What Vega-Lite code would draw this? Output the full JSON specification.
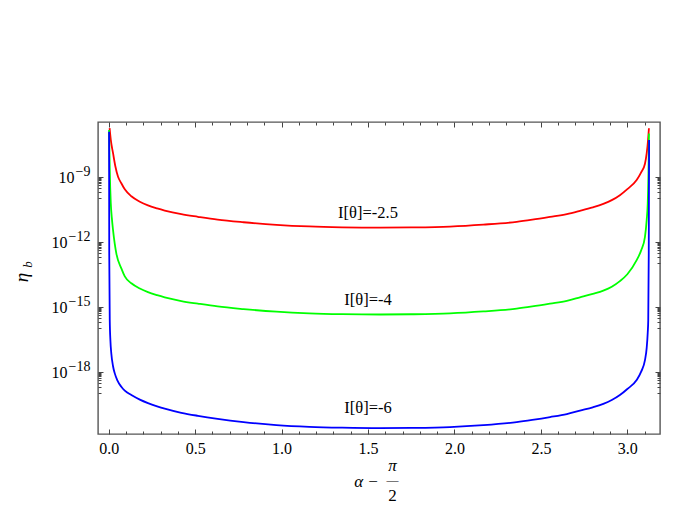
{
  "$schema": "https://vega.github.io/schema/vega-lite/v6.json",
  "width": 562,
  "height": 312,
  "autosize": {"type": "none"},
  "padding": {"left": 98, "top": 122, "right": 17, "bottom": 72},
  "background": "white",
  "config": {
    "view": {"stroke": "#555555", "strokeWidth": 1.4},
    "font": "Liberation Serif",
    "axis": {
      "domain": false,
      "grid": false,
      "labelFont": "Liberation Serif",
      "titleFont": "Liberation Serif",
      "labelColor": "#000000",
      "titleColor": "#000000",
      "tickColor": "#444444",
      "labelFontSize": 16,
      "titleFontSize": 17,
      "titleFontWeight": "normal",
      "titleAlign": "center",
      "titleBaseline": "middle"
    }
  },
  "datasets": {
    "red": [
      {"a": 0.005, "lg": -6.75}, {"a": 0.012, "lg": -7.30}, {"a": 0.025, "lg": -7.91}, {"a": 0.038, "lg": -8.50},
      {"a": 0.054, "lg": -9.00}, {"a": 0.073, "lg": -9.30}, {"a": 0.093, "lg": -9.58}, {"a": 0.131, "lg": -9.90},
      {"a": 0.18, "lg": -10.15}, {"a": 0.227, "lg": -10.32}, {"a": 0.28, "lg": -10.46}, {"a": 0.324, "lg": -10.56},
      {"a": 0.42, "lg": -10.73}, {"a": 0.516, "lg": -10.85}, {"a": 0.63, "lg": -10.98}, {"a": 0.78, "lg": -11.10},
      {"a": 0.97, "lg": -11.22}, {"a": 1.16, "lg": -11.295}, {"a": 1.35, "lg": -11.333}, {"a": 1.57, "lg": -11.35},
      {"a": 1.75, "lg": -11.34}, {"a": 1.974, "lg": -11.30}, {"a": 2.167, "lg": -11.21}, {"a": 2.36, "lg": -11.08},
      {"a": 2.45, "lg": -10.98}, {"a": 2.553, "lg": -10.85}, {"a": 2.65, "lg": -10.72}, {"a": 2.726, "lg": -10.57},
      {"a": 2.80, "lg": -10.41}, {"a": 2.861, "lg": -10.25}, {"a": 2.91, "lg": -10.08}, {"a": 2.957, "lg": -9.85},
      {"a": 3.0, "lg": -9.57}, {"a": 3.054, "lg": -9.15}, {"a": 3.08, "lg": -8.80}, {"a": 3.102, "lg": -8.40},
      {"a": 3.112, "lg": -7.92}, {"a": 3.12, "lg": -7.30}, {"a": 3.125, "lg": -6.76}
    ],
    "green": [
      {"a": 0.002, "lg": -6.84}, {"a": 0.006, "lg": -8.69}, {"a": 0.012, "lg": -10.23}, {"a": 0.018, "lg": -10.90},
      {"a": 0.025, "lg": -11.46}, {"a": 0.035, "lg": -12.10}, {"a": 0.044, "lg": -12.54}, {"a": 0.073, "lg": -13.23},
      {"a": 0.093, "lg": -13.60}, {"a": 0.131, "lg": -13.92}, {"a": 0.18, "lg": -14.16}, {"a": 0.227, "lg": -14.33},
      {"a": 0.28, "lg": -14.47}, {"a": 0.324, "lg": -14.57}, {"a": 0.42, "lg": -14.74}, {"a": 0.516, "lg": -14.86},
      {"a": 0.63, "lg": -14.99}, {"a": 0.78, "lg": -15.11}, {"a": 0.97, "lg": -15.23}, {"a": 1.16, "lg": -15.305},
      {"a": 1.35, "lg": -15.343}, {"a": 1.57, "lg": -15.36}, {"a": 1.75, "lg": -15.35}, {"a": 1.974, "lg": -15.31},
      {"a": 2.167, "lg": -15.22}, {"a": 2.36, "lg": -15.09}, {"a": 2.45, "lg": -14.99}, {"a": 2.553, "lg": -14.86},
      {"a": 2.65, "lg": -14.73}, {"a": 2.726, "lg": -14.57}, {"a": 2.80, "lg": -14.41}, {"a": 2.861, "lg": -14.26},
      {"a": 2.91, "lg": -14.08}, {"a": 2.957, "lg": -13.82}, {"a": 3.0, "lg": -13.50}, {"a": 3.054, "lg": -12.85},
      {"a": 3.08, "lg": -12.40}, {"a": 3.102, "lg": -11.77}, {"a": 3.112, "lg": -11.00}, {"a": 3.118, "lg": -10.23},
      {"a": 3.122, "lg": -9.00}, {"a": 3.124, "lg": -7.92}, {"a": 3.125, "lg": -7.00}
    ],
    "blue": [
      {"a": 0.002, "lg": -6.92}, {"a": 0.003, "lg": -12.52}, {"a": 0.006, "lg": -15.62}, {"a": 0.010, "lg": -16.60},
      {"a": 0.015, "lg": -17.16}, {"a": 0.025, "lg": -17.75}, {"a": 0.035, "lg": -18.08}, {"a": 0.05, "lg": -18.40},
      {"a": 0.073, "lg": -18.70}, {"a": 0.093, "lg": -18.88}, {"a": 0.131, "lg": -19.08}, {"a": 0.18, "lg": -19.29},
      {"a": 0.227, "lg": -19.45}, {"a": 0.28, "lg": -19.60}, {"a": 0.324, "lg": -19.71}, {"a": 0.42, "lg": -19.90},
      {"a": 0.516, "lg": -20.04}, {"a": 0.63, "lg": -20.18}, {"a": 0.78, "lg": -20.33}, {"a": 0.97, "lg": -20.47},
      {"a": 1.16, "lg": -20.55}, {"a": 1.35, "lg": -20.59}, {"a": 1.57, "lg": -20.61}, {"a": 1.75, "lg": -20.60},
      {"a": 1.974, "lg": -20.56}, {"a": 2.167, "lg": -20.47}, {"a": 2.36, "lg": -20.33}, {"a": 2.45, "lg": -20.23},
      {"a": 2.553, "lg": -20.10}, {"a": 2.65, "lg": -19.96}, {"a": 2.726, "lg": -19.80}, {"a": 2.80, "lg": -19.65},
      {"a": 2.861, "lg": -19.49}, {"a": 2.91, "lg": -19.31}, {"a": 2.957, "lg": -19.08}, {"a": 3.0, "lg": -18.80},
      {"a": 3.054, "lg": -18.39}, {"a": 3.08, "lg": -18.00}, {"a": 3.102, "lg": -17.47}, {"a": 3.112, "lg": -16.90},
      {"a": 3.118, "lg": -16.20}, {"a": 3.121, "lg": -15.62}, {"a": 3.124, "lg": -12.52}, {"a": 3.126, "lg": -7.30}
    ],
    "labels1": [
      {"a": 1.5, "lg": -10.68, "t": "I[θ]=-2.5"}
    ],
    "labels2": [
      {"a": 1.5, "lg": -14.70, "t": "I[θ]=-4"},
      {"a": 1.5, "lg": -19.68, "t": "I[θ]=-6"}
    ]
  },
  "layer": [
    {
      "data": {"name": "red"},
      "mark": {"type": "line", "color": "#ff0000", "strokeWidth": 1.8, "interpolate": "monotone"},
      "encoding": {
        "x": {
          "field": "a", "type": "quantitative",
          "scale": {"domain": [-0.062, 3.189], "nice": false, "zero": false},
          "axis": {
            "orient": "bottom",
            "values": [0, 0.5, 1, 1.5, 2, 2.5, 3],
            "format": ".1f",
            "tickSize": -5,
            "labelPadding": 11,
            "title": "α −",
            "titleFontStyle": "italic",
            "titleX": 268,
            "titleY": 47
          }
        },
        "y": {
          "field": "lg", "type": "quantitative",
          "scale": {"domain": [-20.88, -6.47], "nice": false, "zero": false},
          "axis": {
            "orient": "left",
            "values": [-18, -15, -12, -9],
            "labelExpr": "'10'",
            "labelAlign": "right",
            "labelBaseline": "middle",
            "labelOffset": 1,
            "labelPadding": {"condition": {"test": "datum.value == -9", "value": 29}, "value": 36},
            "tickSize": -5,
            "title": "η",
            "titleFontSize": 19,
            "titleFontStyle": "italic",
            "titleAngle": 270,
            "titleX": -77,
            "titleY": 155
          }
        }
      }
    },
    {
      "data": {"name": "green"},
      "mark": {"type": "line", "color": "#00ff00", "strokeWidth": 1.8, "interpolate": "monotone"},
      "encoding": {
        "x": {
          "field": "a", "type": "quantitative",
          "scale": {"domain": [-0.062, 3.189], "nice": false, "zero": false},
          "axis": {
            "orient": "bottom",
            "values": [0.1, 0.2, 0.3, 0.4, 0.6, 0.7, 0.8, 0.9, 1.1, 1.2, 1.3, 1.4, 1.6, 1.7, 1.8, 1.9, 2.1, 2.2, 2.3, 2.4, 2.6, 2.7, 2.8, 2.9, 3.1],
            "labels": false,
            "tickSize": -3,
            "title": "π",
            "titleFontStyle": "italic",
            "titleX": 294,
            "titleY": 31
          }
        },
        "y": {
          "field": "lg", "type": "quantitative",
          "scale": {"domain": [-20.88, -6.47], "nice": false, "zero": false},
          "axis": {
            "orient": "left",
            "values": [-18, -15, -12, -9],
            "labelExpr": "'−' + format(-datum.value, 'd')",
            "labelFontSize": 14,
            "labelAlign": "right",
            "labelBaseline": "middle",
            "labelOffset": -5,
            "labelPadding": 8,
            "ticks": false,
            "tickSize": 0,
            "title": "b",
            "titleFontSize": 13,
            "titleFontStyle": "italic",
            "titleAngle": 270,
            "titleX": -71,
            "titleY": 142
          }
        }
      }
    },
    {
      "data": {"name": "blue"},
      "mark": {"type": "line", "color": "#0000ff", "strokeWidth": 1.8, "interpolate": "monotone"},
      "encoding": {
        "x": {
          "field": "a", "type": "quantitative",
          "scale": {"domain": [-0.062, 3.189], "nice": false, "zero": false},
          "axis": {
            "orient": "top",
            "values": [0, 0.5, 1, 1.5, 2, 2.5, 3],
            "labels": false,
            "tickSize": -5,
            "title": "2",
            "titleX": 294,
            "titleY": 373
          }
        },
        "y": {
          "field": "lg", "type": "quantitative",
          "scale": {"domain": [-20.88, -6.47], "nice": false, "zero": false},
          "axis": {
            "orient": "left",
            "values": [-9.046, -9.097, -9.155, -9.222, -9.301, -9.398, -9.523, -9.699, -10, -12.046, -12.097, -12.155, -12.222, -12.301, -12.398, -12.523, -12.699, -13, -15.046, -15.097, -15.155, -15.222, -15.301, -15.398, -15.523, -15.699, -16, -18.046, -18.097, -18.155, -18.222, -18.301, -18.398, -18.523, -18.699, -19],
            "labels": false,
            "tickSize": -3,
            "title": null
          }
        }
      }
    },
    {
      "data": {"name": "labels1"},
      "mark": {"type": "text", "font": "Liberation Serif", "fontSize": 16.5, "baseline": "middle", "align": "center", "color": "#000000"},
      "encoding": {
        "text": {"field": "t"},
        "x": {
          "field": "a", "type": "quantitative",
          "scale": {"domain": [-0.062, 3.189], "nice": false, "zero": false},
          "axis": {
            "orient": "top",
            "values": [0.1, 0.2, 0.3, 0.4, 0.6, 0.7, 0.8, 0.9, 1.1, 1.2, 1.3, 1.4, 1.6, 1.7, 1.8, 1.9, 2.1, 2.2, 2.3, 2.4, 2.6, 2.7, 2.8, 2.9, 3.1],
            "labels": false,
            "tickSize": -3,
            "title": "—",
            "titleFontSize": 12,
            "titleX": 294,
            "titleY": 357
          }
        },
        "y": {
          "field": "lg", "type": "quantitative",
          "scale": {"domain": [-20.88, -6.47], "nice": false, "zero": false},
          "axis": {
            "orient": "right",
            "values": [-18, -15, -12, -9],
            "labels": false,
            "tickSize": -5,
            "title": null
          }
        }
      }
    },
    {
      "data": {"name": "labels2"},
      "mark": {"type": "text", "font": "Liberation Serif", "fontSize": 16.5, "baseline": "middle", "align": "center", "color": "#000000"},
      "encoding": {
        "text": {"field": "t"},
        "x": {
          "field": "a", "type": "quantitative",
          "scale": {"domain": [-0.062, 3.189], "nice": false, "zero": false},
          "axis": null
        },
        "y": {
          "field": "lg", "type": "quantitative",
          "scale": {"domain": [-20.88, -6.47], "nice": false, "zero": false},
          "axis": {
            "orient": "right",
            "values": [-9.046, -9.097, -9.155, -9.222, -9.301, -9.398, -9.523, -9.699, -10, -12.046, -12.097, -12.155, -12.222, -12.301, -12.398, -12.523, -12.699, -13, -15.046, -15.097, -15.155, -15.222, -15.301, -15.398, -15.523, -15.699, -16, -18.046, -18.097, -18.155, -18.222, -18.301, -18.398, -18.523, -18.699, -19],
            "labels": false,
            "tickSize": -3,
            "title": null
          }
        }
      }
    }
  ],
  "resolve": {
    "scale": {"x": "independent", "y": "independent"},
    "axis": {"x": "independent", "y": "independent"}
  }
}
